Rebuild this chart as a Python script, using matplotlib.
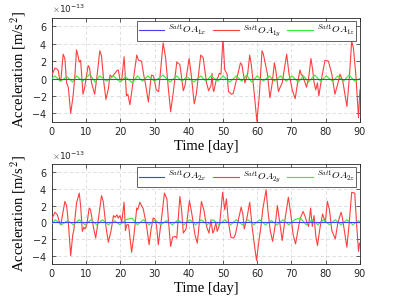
import matplotlib
matplotlib.use("Agg")
import matplotlib.pyplot as plt
import numpy as np
from matplotlib.ticker import ScalarFormatter

plt.rcParams['mathtext.fontset'] = 'cm'

# ---- data (values in units of 1e-13 m/s^2) ----
t1y = [0, 0.9, 1.5, 1.9, 2.3, 2.6, 3.3, 3.8, 4.3, 4.8, 5.5, 6.2, 6.7, 7.2, 7.7, 8.0, 8.4, 9.1, 9.6,
       10.6, 11.0, 11.6, 12.5, 13.2, 14.0, 14.5, 15.2, 15.8, 16.5, 17.0, 17.6, 18.2, 19.0, 19.4, 19.9,
       20.4, 21.1, 21.5, 21.8, 22.2, 22.8, 23.5, 24.0, 24.8, 25.3, 26.2, 26.8, 27.3, 28.2, 28.8, 29.1,
       29.7, 30.5, 31.2, 32.5, 33.2, 34.0, 34.7, 35.5, 36.5, 37.4, 38.4, 38.9, 40.1, 40.7, 41.6, 42.2,
       43.5, 44.2, 45.2, 45.8, 46.5, 46.8, 47.1, 47.3, 48.0, 48.6, 48.9, 49.4, 50.0, 50.5, 51.2, 51.6,
       52.5, 53.0, 55.1, 55.5, 56.4, 57.2, 57.8, 58.3, 59.2, 59.9, 60.6, 61.4, 61.8, 62.2, 63.0, 63.7,
       64.4, 65.0, 65.4, 66.2, 66.7, 67.3, 68.6, 69.3, 70.3, 71.1, 71.8, 72.5, 72.9, 73.2, 74.0, 74.4,
       75.0, 75.7, 76.2, 76.6, 77.1, 77.6, 78.0, 78.8, 79.8, 80.8, 81.8, 82.7, 83.6, 84.2, 85.0, 86.2,
       86.9, 87.6, 88.1, 88.8, 89.6, 90.0]
a1y = [0.4, 1.2, 1.1, 0.9, -0.2, -0.3, 2.8, 2.3, -0.5, -1.0, -4.0, -2.0, 0.2, 3.3, 2.5, 1.9, 2.1, -1.8, -1.0,
       1.5, 1.2, -0.5, -1.8, 0.3, 3.2, 2.6, -0.5, -2.4, -1.2, 0.4, 0.2, 0.5, 0.9, 1.0, -0.1,
       -0.2, 2.5, 0.0, -2.0, -1.8, -3.0, -1.0, 0.5, 2.7, 2.1, 2.0, 0.5, -0.5, -2.7, -0.5, 0.4,
       0.3, -1.3, -1.5, 4.1, 2.5, -1.0, -3.8, -1.5, 1.9, 1.6, -1.4, -0.8, 2.3, 0.5, -2.9, -1.8,
       2.7, 2.4, -0.5, -1.4, -0.8, 0.6, -1.2, -1.5, -0.2, 0.2, 0.6, 0.5, 4.7, 1.0, 0.5, -1.5,
       -1.8, -1.7, 1.8, 1.6, -0.5, 0.5, 2.7, 1.5, -2.0, -4.9, -2.0, 3.2, 2.8, 2.0, 0.5, -2.2,
       -0.5, 1.8, 1.0, -1.5, -1.0, -0.5, 2.8, 0.5, -1.4, -2.3, -0.5, 1.0, 0.4, 0.4, -0.5, -1.0,
       0.0, 2.3, 1.0, -0.4, -1.3, -0.5, -2.0, 0.0, 2.1, 2.0, 0.5, -1.8, -0.5, 0.5, -0.3, -3.2,
       0.0, 4.3, 3.5, 0.5, -4.5, -1.3]

t1z = [0, 0.9, 2.5, 4.5, 6.0, 7.2, 9.0, 11.1, 12.6, 14.0, 16.0, 18.0, 20.0, 21.5, 23.5, 25.0, 26.5,
       28.0, 30.0, 32.5, 34.5, 36.5, 38.0, 39.5, 41.5, 43.5, 45.0, 46.5, 48.5, 50.0, 52.0, 53.9, 55.5,
       56.9, 58.4, 60.0, 61.8, 63.5, 65.0, 66.8, 68.5, 70.2, 72.0, 73.5, 75.0, 76.8, 78.5, 80.2, 82.0,
       83.6, 85.2, 86.8, 88.5, 90.0]
a1z = [0.0, 0.3, -0.3, 0.2, -0.4, 0.3, -0.3, 0.5, -0.4, 0.3, -0.3, 0.3, -0.4, 0.2, -0.5, 0.3, -0.3,
       0.3, -0.3, 0.4, -0.4, 0.3, -0.3, 0.2, -0.4, 0.3, -0.3, 0.3, -0.3, 0.3, -0.4, 0.3, -0.3,
       0.4, -0.4, 0.3, -0.3, 0.3, -0.3, 0.3, -0.3, 0.3, -0.4, 0.3, -0.4, 0.4, -0.3, 0.3, -0.3,
       0.3, -0.3, 0.4, -0.3, 0.0]

t1x = [0, 90]
a1x = [0.0, 0.0]

t2y = [0, 0.9, 1.6, 2.2, 2.6, 3.8, 4.3, 4.8, 5.5, 6.1, 6.4, 7.2, 8.0, 8.4, 8.9, 9.3, 9.7, 10.2, 10.9,
       11.3, 12.1, 12.8, 13.3, 14.5, 15.0, 15.8, 16.5, 17.3, 18.0, 18.5, 19.0, 19.4, 19.9, 20.4, 21.1,
       21.5, 21.9, 22.4, 23.3, 24.0, 24.8, 25.1, 25.7, 26.7, 27.7, 28.4, 29.0, 29.6, 30.1, 30.6, 31.1,
       31.9, 32.9, 33.6, 34.1, 34.7, 35.3, 36.0, 36.5, 37.4, 37.9, 38.4, 39.2, 40.2, 40.9, 41.8, 42.5,
       43.7, 44.4, 45.2, 45.9, 46.5, 47.0, 47.4, 47.9, 48.3, 49.0, 49.9, 50.5, 51.0, 51.6, 52.3, 53.1,
       53.6, 54.6, 55.3, 55.8, 56.2, 56.9, 57.8, 58.5, 59.1, 59.8, 60.5, 61.1, 61.6, 62.6, 63.1, 63.8,
       64.5, 65.2, 65.9, 66.4, 67.3, 68.0, 69.1, 69.8, 70.5, 71.2, 72.1, 72.6, 73.4, 73.9, 74.5, 75.0,
       75.6, 76.1, 76.6, 77.1, 77.6, 78.4, 79.1, 79.9, 80.5, 81.1, 81.8, 82.8, 83.6, 84.5, 84.9, 86.2,
       86.9, 87.6, 88.5, 89.0, 89.6, 89.9, 90.0]
a2y = [0.4, 1.2, 0.9, 0.0, -0.3, 2.5, 2.0, 0.0, -4.0, -1.5, -1.0, 2.3, 3.5, 2.0, -1.1, -0.6, -0.8, -0.3, 1.7,
       1.5, -0.5, -1.9, -0.5, 3.2, 2.5, -0.5, -2.4, -1.0, 0.8, 0.6, 0.9, 0.5, 0.8, 0.0, 2.4,
       -1.0, -0.3, -0.3, -3.6, -1.5, 1.7, 1.5, 2.4, 1.6, -0.5, -2.7, -0.8, 0.5, 0.4, -0.5, -2.7,
       0.0, 3.5, 2.8, 0.0, -2.9, -1.8, -1.7, -1.9, 3.1, 1.5, -1.3, -0.8, 2.6, 1.0, -1.5, -2.5,
       2.5, 1.5, -0.5, -1.3, 0.3, -1.3, -1.0, 0.0, -1.1, -0.3, 3.6, 1.5, 2.8, 0.0, -1.8, -1.9,
       -1.5, 0.5, 1.8, 1.0, -0.8, 0.3, 2.4, -0.5, -2.5, -4.6, -2.2, -0.5, 1.5, 3.9, 1.5, -1.0,
       -2.3, -0.5, 2.0, 0.5, -2.2, 0.0, 3.0, 1.0, -1.5, -2.6, -0.5, 0.5, 1.3, 0.8, 0.0, -0.5,
       1.7, -0.5, 0.8, -1.6, -2.8, -0.5, 1.0, 0.0, 2.5, 1.5, -1.0, -2.0, 0.0, 1.2, 0.5, -3.0,
       0.0, 3.6, 3.5, 0.0, -3.5, -2.5, -2.6]

t2z = [0, 1.0, 2.8, 4.6, 6.3, 8.0, 9.7, 11.4, 13.1, 14.8, 16.5, 18.2, 19.9, 21.6, 23.4, 25.0, 26.7,
       28.4, 30.1, 31.8, 33.5, 35.2, 36.9, 38.6, 40.3, 42.0, 43.7, 45.4, 47.1, 48.8, 50.5, 52.2, 53.9,
       55.6, 57.3, 59.0, 60.7, 62.4, 64.1, 65.8, 67.5, 69.2, 70.9, 72.6, 74.3, 76.0, 77.7, 79.4, 81.1,
       82.8, 84.5, 86.2, 87.9, 89.6, 90.0]
a2z = [-0.2, 0.3, -0.3, 0.2, -0.3, 0.3, -0.3, 0.3, -0.3, 0.3, -0.3, 0.2, -0.3, 0.3, 0.5, -0.3, 0.3,
       -0.3, 0.3, -0.3, 0.2, -0.3, 0.3, -0.3, 0.3, -0.3, 0.3, -0.3, 0.3, -0.3, 0.3, -0.3, 0.3,
       -0.3, 0.3, -0.3, 0.3, -0.3, 0.2, -0.3, 0.3, -0.3, 0.3, 0.5, -0.3, 0.3, -0.3, 0.3, -0.3,
       0.3, -0.3, 0.3, -0.3, 0.2, 0.0]

t2x = [0, 90]
a2x = [0.0, 0.0]

xticks = [0, 10, 20, 30, 40, 50, 60, 70, 80, 90]
yticks = [-4, -2, 0, 2, 4, 6]
labels1 = [r'$^{Sat1}OA_{1x}$', r'$^{Sat1}OA_{1y}$', r'$^{Sat1}OA_{1z}$']
labels2 = [r'$^{Sat1}OA_{2x}$', r'$^{Sat1}OA_{2y}$', r'$^{Sat1}OA_{2z}$']
scale = 1e-13

fig = plt.figure(figsize=(3.99, 3.03), dpi=100)
ax1 = fig.add_axes([0.130, 0.597, 0.772, 0.345])
ax2 = fig.add_axes([0.130, 0.129, 0.772, 0.330])

blue = '#4040ff'
red = '#ff4040'
green = '#33ee33'

def style(ax, data, labels):
    (tx, ax_), (ty, ay), (tz, az) = data
    ax.plot(tx, np.array(ax_) * scale, color=blue, lw=0.8, label=labels[0], zorder=4)
    ax.plot(ty, np.array(ay) * scale, color=red, lw=0.8, label=labels[1], zorder=3)
    ax.plot(tz, np.array(az) * scale, color=green, lw=0.8, label=labels[2], zorder=3)
    ax.set_xlim(0, 90)
    ax.set_ylim(-5 * scale, 7 * scale)
    ax.set_xticks(xticks)
    ax.set_yticks(np.array(yticks) * scale)
    fmt = ScalarFormatter(useMathText=True)
    fmt.set_powerlimits((0, 0))
    ax.yaxis.set_major_formatter(fmt)
    ax.yaxis.get_offset_text().set_fontsize(6.5)
    ax.yaxis.get_offset_text().set_color('#404040')
    ax.tick_params(direction='in', top=True, right=True, labelsize=7, colors='#262626',
                   length=3, width=0.5, labelcolor='#262626')
    ax.grid(True, linestyle=(0, (4, 3)), color='#d9d9d9', lw=0.6)
    for s in ax.spines.values():
        s.set_linewidth(0.6)
        s.set_color('#262626')
    ax.set_xlabel('Time [day]', family='Liberation Serif', fontsize=10.5, labelpad=2)
    ax.set_ylabel(r'Acceleration [m/s$^2$]', family='Liberation Serif', fontsize=10.5, labelpad=2)
    leg = ax.legend(loc='upper right', ncol=3, fontsize=7, frameon=True, fancybox=False,
                    edgecolor='#262626', handlelength=2.6, columnspacing=0.7, handletextpad=0.4,
                    borderpad=0.2, borderaxespad=0.35, framealpha=1)
    leg.get_frame().set_linewidth(0.5)

style(ax1, [(t1x, a1x), (t1y, a1y), (t1z, a1z)], labels1)
style(ax2, [(t2x, a2x), (t2y, a2y), (t2z, a2z)], labels2)

fig.savefig('out.png', dpi=100)
